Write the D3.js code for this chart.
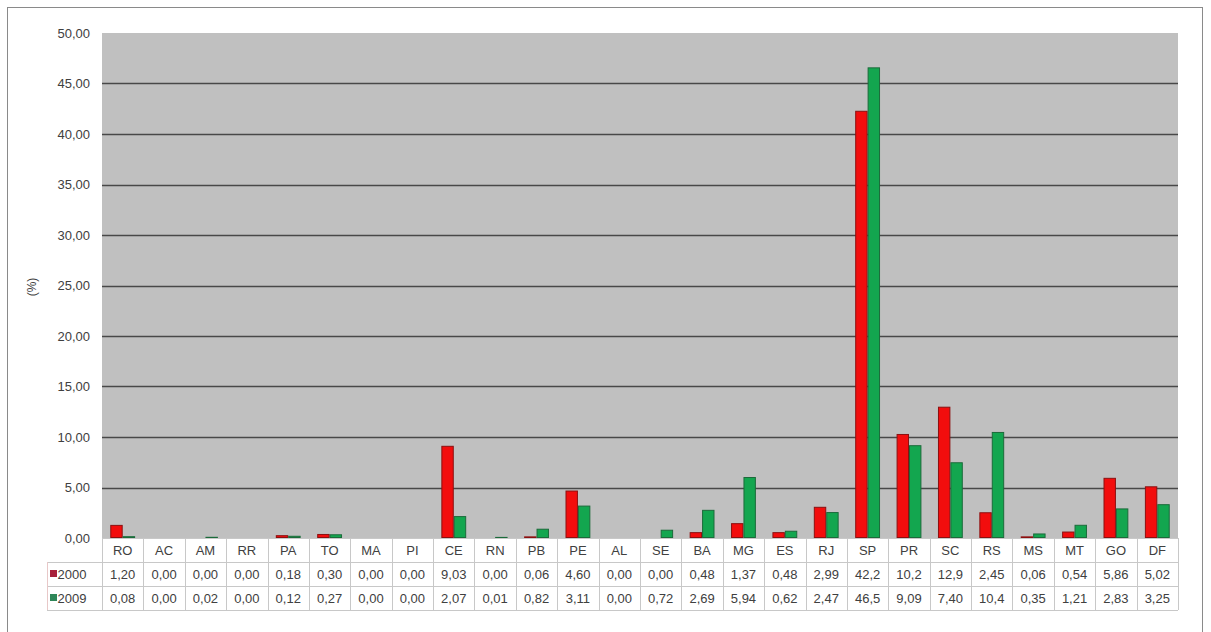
<!DOCTYPE html>
<html>
<head>
<meta charset="utf-8">
<script src="https://cdn.jsdelivr.net/npm/d3@7"></script>
<style>
  html, body { margin: 0; padding: 0; background: #fff; }
  svg { display: block; font-family: "Liberation Sans", Arial, sans-serif; }
</style>
</head>
<body>
<svg id="chart" width="1211" height="632"></svg>
<script>
// States (UF) along the category axis
const categories = ["RO","AC","AM","RR","PA","TO","MA","PI","CE","RN","PB","PE","AL","SE","BA","MG","ES","RJ","SP","PR","SC","RS","MS","MT","GO","DF"];
// Share by state (%), year 2000
const values2000 = [1.20,0.00,0.00,0.00,0.18,0.30,0.00,0.00,9.03,0.00,0.06,4.60,0.00,0.00,0.48,1.37,0.48,2.99,42.2,10.2,12.9,2.45,0.06,0.54,5.86,5.02];
// Share by state (%), year 2009
const values2009 = [0.08,0.00,0.02,0.00,0.12,0.27,0.00,0.00,2.07,0.01,0.82,3.11,0.00,0.72,2.69,5.94,0.62,2.47,46.5,9.09,7.40,10.4,0.35,1.21,2.83,3.25];
const seriesNames = ["2000", "2009"];
const yTicks = [0,5,10,15,20,25,30,35,40,45,50];

const series = [
  { name: seriesNames[0], values: values2000, fill: "#f20d0d", stroke: "#8c1010", swatch: "#a8203a" },
  { name: seriesNames[1], values: values2009, fill: "#13a64f", stroke: "#1b6b3a", swatch: "#2e8658" }
];

const svg = d3.select("#chart");
const plotLeft = 102, plotRight = 1178, plotTop = 33, plotBottom = 538;
const rowH = 24;
const textColor = "#404040";
const fontSize = 13;

// outer frame
svg.append("rect").attr("x", 7.5).attr("y", 7.5).attr("width", 1195).attr("height", 640)
  .attr("fill", "#fff").attr("stroke", "#8a8a8a").attr("stroke-width", 1);

const x = d3.scaleBand().domain(categories).range([plotLeft, plotRight]).padding(0);
const y = d3.scaleLinear().domain([0, 50]).range([plotBottom, plotTop]);
const sub = d3.scaleBand().domain(seriesNames).range([0, x.bandwidth() * 0.6]);
const groupOffset = x.bandwidth() * 0.2;

// plot area
svg.append("rect").attr("x", plotLeft).attr("y", plotTop)
  .attr("width", plotRight - plotLeft).attr("height", plotBottom - plotTop)
  .attr("fill", "#c0c0c0");

// horizontal gridlines
svg.append("g").selectAll("line").data(yTicks.filter(t => t > 0 && t < 50)).join("line")
  .attr("x1", plotLeft).attr("x2", plotRight)
  .attr("y1", d => Math.round(y(d)) + 0.5).attr("y2", d => Math.round(y(d)) + 0.5)
  .attr("stroke", "#484848").attr("stroke-width", 1.5);

// y axis labels
const yAxis = d3.axisLeft(y).tickValues(yTicks).tickSize(0).tickPadding(12)
  .tickFormat(d => d3.format(".2f")(d).replace(".", ","));
const gy = svg.append("g").attr("transform", `translate(${plotLeft},0)`).call(yAxis);
gy.select(".domain").remove();
gy.selectAll("text").attr("font-size", fontSize).attr("fill", textColor)
  .attr("font-family", "'Liberation Sans', Arial, sans-serif");

// axis title
svg.append("text").attr("transform", "translate(36,287) rotate(-90)")
  .attr("text-anchor", "middle").attr("font-size", 12).attr("fill", textColor).text("(%)");

// bars (zero values draw nothing)
series.forEach(s => {
  const pts = categories.map((c, i) => ({ c, v: s.values[i] })).filter(d => d.v > 0);
  svg.append("g").selectAll("rect").data(pts).join("rect")
    .attr("x", d => x(d.c) + groupOffset + sub(s.name) + 0.5)
    .attr("y", d => y(d.v) - 0.5)
    .attr("width", sub.bandwidth() - 1)
    .attr("height", d => Math.max(0.5, y(0) - y(d.v)))
    .attr("fill", s.fill).attr("stroke", s.stroke).attr("stroke-width", 1);
});

// data table beneath the plot
const fmt = v => (v >= 10 ? v.toFixed(1) : v.toFixed(2)).replace(".", ",");
const table = svg.append("g");
const gridColor = "#c8c8c8";
const tableBottom = plotBottom + rowH * 3;

// horizontal rules
[plotBottom, plotBottom + rowH, plotBottom + rowH * 2, tableBottom].forEach((yy, i) => {
  table.append("line").attr("x1", i === 0 ? plotLeft : 47).attr("x2", plotRight)
    .attr("y1", yy + 0.5).attr("y2", yy + 0.5).attr("stroke", gridColor);
});
// vertical rules
categories.forEach(c => {
  table.append("line").attr("x1", Math.round(x(c)) + 0.5).attr("x2", Math.round(x(c)) + 0.5)
    .attr("y1", plotBottom).attr("y2", tableBottom).attr("stroke", gridColor);
});
table.append("line").attr("x1", plotRight + 0.5).attr("x2", plotRight + 0.5)
  .attr("y1", plotBottom).attr("y2", tableBottom).attr("stroke", gridColor);
table.append("line").attr("x1", 47.5).attr("x2", 47.5)
  .attr("y1", plotBottom + rowH).attr("y2", tableBottom).attr("stroke", "#e8c8c8");

// category labels
table.append("g").selectAll("text").data(categories).join("text")
  .attr("x", c => x(c) + x.bandwidth() / 2).attr("y", plotBottom + rowH / 2 + 4.5)
  .attr("text-anchor", "middle").attr("font-size", fontSize).attr("fill", textColor).text(c => c);

// series rows
series.forEach((s, r) => {
  const rowY = plotBottom + rowH * (r + 1);
  table.append("rect").attr("x", 50).attr("y", rowY + 8).attr("width", 7).attr("height", 7)
    .attr("fill", s.swatch);
  table.append("text").attr("x", 57.5).attr("y", rowY + rowH / 2 + 4.5)
    .attr("font-size", fontSize).attr("fill", textColor).text(s.name);
  table.append("g").selectAll("text").data(categories).join("text")
    .attr("x", c => x(c) + x.bandwidth() / 2).attr("y", rowY + rowH / 2 + 4.5)
    .attr("text-anchor", "middle").attr("font-size", fontSize).attr("fill", textColor)
    .text((c, i) => fmt(s.values[i]));
});
</script>
</body>
</html>
